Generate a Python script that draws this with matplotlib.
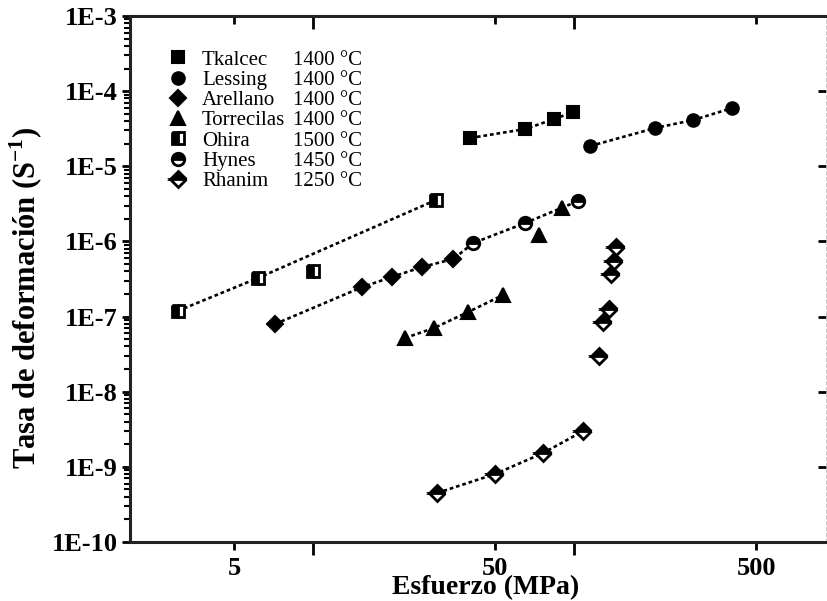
import numpy as np
import matplotlib
matplotlib.use("Agg")
import matplotlib.pyplot as plt
from matplotlib.lines import Line2D
from matplotlib.ticker import FixedLocator, FuncFormatter, NullFormatter

plt.rcParams['font.family'] = ['Liberation Serif', 'DejaVu Serif']
plt.rcParams['mathtext.fontset'] = 'custom'
plt.rcParams['mathtext.rm'] = 'Liberation Serif'
plt.rcParams['mathtext.bf'] = 'Liberation Serif:bold'

# ---------------- data ----------------
names = ["Tkalcec", "Lessing", "Arellano", "Torrecilas", "Ohira", "Hynes", "Rhanim"]
temps = ["1400 °C", "1400 °C", "1400 °C", "1400 °C", "1500 °C", "1450 °C", "1250 °C"]

tkalcec_x = [40.2, 65.2, 84.2, 99.6]
tkalcec_y = [2.38e-5, 3.13e-5, 4.26e-5, 5.28e-5]

lessing_x = [115.7, 205.0, 287.0, 405.0]
lessing_y = [1.86e-5, 3.23e-5, 4.13e-5, 5.97e-5]

arellano_x = [7.19, 15.5, 20.1, 26.3, 34.6]
arellano_y = [7.96e-8, 2.47e-7, 3.36e-7, 4.57e-7, 5.84e-7]

torrecilas_x = [22.6, 29.2, 39.4, 53.7, 73.8, 90.4]
torrecilas_y = [5.19e-8, 7.05e-8, 1.15e-7, 1.94e-7, 1.22e-6, 2.79e-6]

ohira_x = [3.05, 6.18, 10.05, 29.7]
ohira_y = [1.19e-7, 3.26e-7, 4.04e-7, 3.56e-6]

hynes_x = [41.2, 65.2, 104.0]
hynes_y = [9.52e-7, 1.76e-6, 3.45e-6]

rhanim_x = [30.0, 50.0, 76.4, 108.8, 125.3, 129.8, 136.9, 139.4, 143.0, 145.6]
rhanim_y = [4.49e-10, 8.03e-10, 1.53e-9, 3.0e-9, 2.99e-8, 8.47e-8, 1.26e-7, 3.68e-7, 5.49e-7, 8.43e-7]

# which points each dotted trend line passes through
ohira_line_idx = [0, 1, 3]
torrecilas_line_idx = [0, 1, 2, 3]
rhanim_line_idx = [0, 1, 2, 3]

x_ticks_major = [5, 50, 500]
x_ticks_minor = [10, 100]

# ---------------- figure ----------------
fig = plt.figure(figsize=(8.27, 6.01), dpi=100)
ax = fig.add_axes([0.1572, 0.0982, 0.8418, 0.8752])
ax.set_xscale('log')
ax.set_yscale('log')
ax.set_xlim(2.0, 925)
ax.set_ylim(1e-10, 1e-3)

dot = (0, (1.4, 1.1))
lkw = dict(color='black', lw=1.9, linestyle=dot, zorder=2)

ax.plot(tkalcec_x, tkalcec_y, **lkw)
ax.plot(lessing_x, lessing_y, **lkw)
ax.plot([ohira_x[i] for i in ohira_line_idx], [ohira_y[i] for i in ohira_line_idx], **lkw)
ah_x = arellano_x + hynes_x
ah_y = arellano_y + hynes_y
order = np.argsort(ah_x)
ax.plot(np.array(ah_x)[order], np.array(ah_y)[order], **lkw)
ax.plot([torrecilas_x[i] for i in torrecilas_line_idx], [torrecilas_y[i] for i in torrecilas_line_idx], **lkw)
ax.plot([rhanim_x[i] for i in rhanim_line_idx], [rhanim_y[i] for i in rhanim_line_idx], **lkw)

styles = [
    dict(marker='s', ms=8, mfc='black', mec='black', mew=1.5),
    dict(marker='o', ms=9, mfc='black', mec='black', mew=1.5),
    dict(marker='D', ms=8, mfc='black', mec='black', mew=1.5),
    dict(marker='^', ms=10, mfc='black', mec='black', mew=1.5),
    dict(marker='s', ms=8, mfc='black', mec='black', mew=2.0, fillstyle='left', markerfacecoloralt='white'),
    dict(marker='o', ms=9, mfc='black', mec='black', mew=2.0, fillstyle='top', markerfacecoloralt='white'),
    dict(marker='D', ms=8, mfc='black', mec='black', mew=2.0, fillstyle='top', markerfacecoloralt='white'),
]
series = [(tkalcec_x, tkalcec_y), (lessing_x, lessing_y), (arellano_x, arellano_y),
          (torrecilas_x, torrecilas_y), (ohira_x, ohira_y), (hynes_x, hynes_y),
          (rhanim_x, rhanim_y)]
handles = []
for (sx, sy), st in zip(series, styles):
    h, = ax.plot(sx, sy, linestyle='none', zorder=3, **st)
    handles.append(h)

# ---------------- axes styling ----------------
for s in ['left', 'bottom', 'top']:
    ax.spines[s].set_linewidth(2.2)
    ax.spines[s].set_color('#222222')
ax.spines['right'].set_linewidth(0.6)
ax.spines['right'].set_color('#bbbbbb')
ax.spines['right'].set_linestyle((0, (4, 3)))

ax.xaxis.set_major_locator(FixedLocator(x_ticks_major))
ax.xaxis.set_minor_locator(FixedLocator(x_ticks_minor))
ax.xaxis.set_major_formatter(FuncFormatter(lambda v, p: f"{v:g}"))
ax.xaxis.set_minor_formatter(NullFormatter())

ydec = [10.0 ** k for k in range(-10, -2)]
ax.yaxis.set_major_locator(FixedLocator(ydec))
ax.yaxis.set_minor_locator(FixedLocator([m * d for d in ydec[:-1] for m in range(2, 10)]))
ax.yaxis.set_major_formatter(FuncFormatter(lambda v, p: f"1E{int(round(np.log10(v)))}"))
ax.yaxis.set_minor_formatter(NullFormatter())

ax.tick_params(axis='x', which='major', direction='out', length=6, width=2, top=True,
               labelsize=19, pad=5)
ax.tick_params(axis='x', which='minor', direction='out', length=9, width=2, top=True)
ax.tick_params(axis='y', which='major', direction='out', length=6, width=2, right=True,
               labelsize=19, pad=3)
ax.tick_params(axis='y', which='minor', direction='out', length=4, width=1.5, right=False)
for lbl in ax.get_xticklabels() + ax.get_yticklabels():
    lbl.set_fontweight('bold')

# inward ticks on top and right
for t in ax.xaxis.get_major_ticks() + ax.xaxis.get_minor_ticks():
    t.tick2line.set_marker(3)  # TICKDOWN
for t in ax.yaxis.get_major_ticks():
    t.tick2line.set_marker(0)  # TICKLEFT

ax.set_xlabel("Esfuerzo (MPa)", fontsize=20, fontweight='bold', va='baseline')
ax.set_ylabel("Tasa de deformación (S$^{\\mathbf{-1}}$)", fontsize=22, fontweight='bold')
ax.xaxis.set_label_coords(0.511, -0.1)
ax.yaxis.set_label_coords(-0.122, 0.465)

# ---------------- legend ----------------
lfs = 15
leg1 = ax.legend(handles, names, loc='upper left', bbox_to_anchor=(0.054, 0.935),
                 frameon=False, borderpad=0, borderaxespad=0, handlelength=1.0,
                 handletextpad=0.65, labelspacing=0.03, fontsize=lfs)
ax.add_artist(leg1)
blank = [Line2D([], [], linestyle='none') for _ in temps]
leg2 = ax.legend(blank, temps, loc='upper left', bbox_to_anchor=(0.234, 0.935),
                 frameon=False, borderpad=0, borderaxespad=0, handlelength=0,
                 handletextpad=0, labelspacing=0.03, fontsize=lfs)

fig.savefig("out.png", dpi=100)
